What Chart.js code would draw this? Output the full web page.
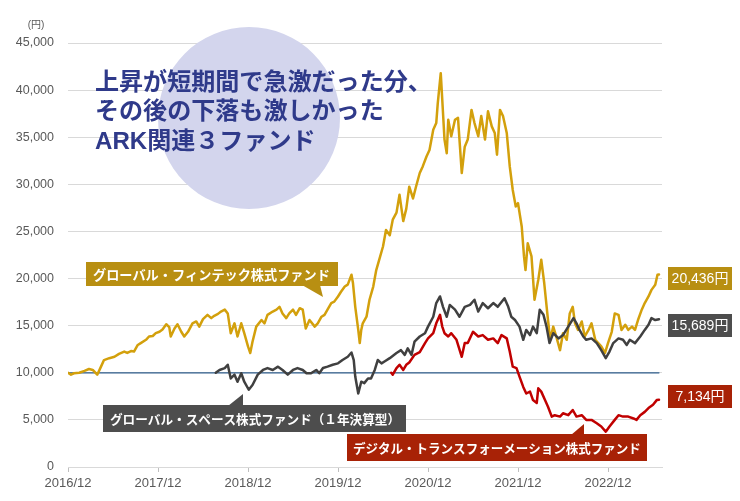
<!DOCTYPE html>
<html><head><meta charset="utf-8">
<script src="https://cdn.jsdelivr.net/npm/chart.js@4.4.1/dist/chart.umd.min.js"></script>
<style>html,body{margin:0;padding:0;background:#fff;}canvas{display:block;}</style>
</head><body>
<canvas id="c" width="740" height="501"></canvas>
<script>
// ---- Tick labels (x in months since 2016/12) ----
const xTickMonths = [0, 12, 24, 36, 48, 60, 72];
const xTickLabels = ['2016/12', '2017/12', '2018/12', '2019/12', '2020/12', '2021/12', '2022/12'];

// ---- グローバル・フィンテック株式ファンド ----
const fintechMonths = [0,0.4,0.8,1.5,2.2,2.8,3.3,3.9,4.4,4.8,5.5,6.2,6.8,7.5,7.9,8.4,8.8,9.3,9.7,10.4,10.8,11.3,11.7,12.2,12.6,13.1,13.5,13.7,14.2,14.6,15.1,15.5,16.0,16.6,17.1,17.5,18.0,18.6,19.1,19.5,20.0,20.4,20.9,21.3,21.7,22.2,22.6,23.1,23.5,24.0,24.3,24.6,25.1,25.8,26.2,26.6,27.3,27.8,28.2,28.6,29.1,29.5,30.0,30.4,30.9,31.3,31.7,32.2,32.9,33.3,33.8,34.2,34.6,35.1,35.5,36.0,36.4,36.9,37.3,37.8,38.0,38.3,38.7,38.9,39.1,39.3,39.8,40.2,40.7,41.1,41.5,42.0,42.4,42.9,43.3,43.8,44.2,44.7,45.1,45.5,46.0,46.4,46.9,47.3,47.8,48.2,48.7,49.1,49.3,49.7,49.9,50.2,50.5,50.7,51.1,51.6,52.0,52.5,52.9,53.3,53.8,54.2,54.7,55.1,55.6,56.0,56.5,56.9,57.2,57.6,58.0,58.5,58.9,59.3,59.7,60.0,60.5,60.8,61.0,61.3,61.8,62.2,62.7,63.1,63.5,64.0,64.3,64.7,65.1,65.6,66.0,66.5,66.9,67.3,67.6,68.0,68.5,68.9,69.4,69.8,70.3,70.7,71.1,71.6,72.0,72.5,72.9,73.4,73.8,74.3,74.7,75.2,75.6,76.0,76.5,76.9,77.4,77.8,78.3,78.6,78.8];
const fintechValues = [10000,9800,9950,10000,10200,10400,10300,9800,10650,11350,11550,11700,12000,12250,12100,12300,12250,12950,13150,13500,13850,13900,14200,14350,14600,15150,14850,13850,14700,15150,14350,13850,14350,15250,15450,14900,15700,16150,15800,16050,16250,16500,16700,16300,14200,15250,13850,15250,14200,12800,12100,13300,14900,15600,15250,16150,16500,16700,17000,16300,15800,16300,16700,16150,16850,16700,14700,15600,14900,15250,15950,16150,16700,17400,17550,18100,18600,19150,19350,20400,19500,17000,14550,13150,14550,15250,15950,17750,19150,20900,22000,23400,25150,24600,26250,27000,28900,26100,27400,29750,28500,29750,31200,31900,32950,33650,35800,36500,38600,41800,39000,34750,33300,36850,35100,36850,37050,31200,34000,34750,37900,36500,35100,37250,34750,37750,36150,35450,33150,37900,37250,35450,31900,29400,27650,28000,25500,22350,20900,23750,22350,17750,19850,22000,19500,15600,13500,14900,13850,12400,14200,13500,16300,17000,15250,14550,15450,13850,14550,15250,13500,13150,12800,12100,13150,14350,16300,16150,14550,15100,14550,14900,14550,15600,16700,17400,18100,18800,19350,20400,20436];

// ---- グローバル・スペース株式ファンド（１年決算型） ----
const spaceMonths = [19.7,20.2,20.9,21.3,21.7,22.2,22.6,23.1,23.5,24.1,24.6,25.3,26.0,26.6,27.3,28.0,28.6,29.3,30.0,30.6,31.3,31.8,32.4,33.1,33.5,34.0,34.6,35.3,36.0,36.6,37.3,37.8,38.1,38.3,38.7,39.1,39.5,40.0,40.4,40.9,41.3,41.8,42.2,42.9,43.8,44.4,44.9,45.3,45.8,46.2,46.9,47.6,48.0,48.7,49.1,49.6,50.0,50.5,50.9,51.6,52.2,52.9,53.6,54.2,54.7,55.3,56.0,56.7,57.3,58.2,58.7,59.1,59.6,60.2,60.7,61.1,61.6,62.0,62.5,62.9,63.4,63.8,64.2,64.7,65.4,66.0,66.7,67.4,67.8,68.2,68.7,69.1,69.8,70.5,71.1,71.7,72.2,72.7,73.4,74.0,74.5,74.9,75.6,76.3,76.9,77.4,77.8,78.3,78.8];
const spaceValues = [10000,10300,10500,10850,9400,9800,9050,9950,9050,8200,8700,9800,10300,10500,10300,10650,10300,9800,10300,10500,10300,9950,9950,10300,9950,10500,10650,10850,11000,11350,11700,12150,11350,9600,7800,9050,8900,9400,9400,10300,11350,11000,11200,11550,12100,12400,11900,12600,11900,13300,13850,14200,14900,15950,17400,18100,17000,15950,17200,16700,15950,17000,17200,17750,16500,17400,16850,17400,17000,17900,17000,15950,15600,14900,13500,14550,14000,14900,14200,16700,16150,14900,13150,14200,13650,14000,14900,15800,15250,14550,13850,13500,13650,13150,12400,11550,12250,13150,13650,13500,12950,13500,13150,13850,14550,15100,15800,15600,15689];

// ---- デジタル・トランスフォーメーション株式ファンド ----
const dxMonths = [43.1,43.3,43.8,44.2,44.7,45.1,45.5,46.2,46.9,47.6,48.0,48.7,49.1,49.6,49.9,50.2,50.7,51.1,51.8,52.5,52.9,53.3,54.0,54.7,55.3,56.0,56.7,57.3,57.8,58.5,58.9,59.3,59.8,60.2,60.7,61.1,61.6,62.0,62.5,62.7,63.1,63.6,64.0,64.5,64.9,65.6,66.0,66.7,67.3,67.8,68.5,69.1,69.8,70.5,71.1,71.7,72.2,72.9,73.4,74.0,74.7,75.4,75.8,76.3,76.9,77.4,78.0,78.5,78.8];
const dxValues = [10000,9800,10500,10850,10300,10850,11100,11900,12200,13150,13650,14200,15250,16150,14900,14200,13850,14200,13500,11700,13150,13150,14350,13850,14000,13500,13650,13150,14000,13650,12250,10650,10500,9600,8500,7800,8000,7100,6800,8350,8000,7100,6400,5350,5500,5350,5700,5500,6050,5350,5500,5000,5000,4650,4300,3750,4300,5000,5500,5350,5350,5150,5000,5500,5850,6250,6600,7100,7134];

// ---- 基準線 10,000円 ----
const baseMonths = [0, 78.8];
const baseValues = [10000, 10000];

// ---- 最終値ラベル ----
const endLabels = ['20,436円', '15,689円', '7,134円'];

const mk = (ms, vs) => ms.map((m, i) => ({ x: m, y: vs[i] }));
const fmt = v => String(v).replace(/\B(?=(\d{3})+(?!\d))/g, ',');

const SANS = "'Liberation Sans', 'Noto Sans CJK JP', sans-serif";
const JP = "'Noto Sans CJK JP', sans-serif";

function fitFont(ctx, text, weight, family, base, targetW) {
  ctx.font = weight + ' ' + base + 'px ' + family;
  const w = ctx.measureText(text).width;
  const s = base * targetW / w;
  ctx.font = weight + ' ' + s.toFixed(2) + 'px ' + family;
}

function callout(ctx, box, tail, color, text, textX, textW) {
  ctx.fillStyle = color;
  ctx.fillRect(box[0], box[1], box[2], box[3]);
  ctx.beginPath();
  ctx.moveTo(tail[0][0], tail[0][1]);
  ctx.lineTo(tail[1][0], tail[1][1]);
  ctx.lineTo(tail[2][0], tail[2][1]);
  ctx.closePath();
  ctx.fill();
  ctx.fillStyle = '#ffffff';
  fitFont(ctx, text, 'bold', JP, 13, textW);
  ctx.textAlign = 'left';
  ctx.textBaseline = 'middle';
  ctx.fillText(text, textX, box[1] + box[3] / 2 + 1);
}

const annot = {
  id: 'annot',
  beforeDatasetsDraw(chart) {
    const ctx = chart.ctx;
    ctx.save();
    ctx.fillStyle = 'rgb(211,213,237)';
    ctx.beginPath();
    ctx.arc(249, 118, 91, 0, Math.PI * 2);
    ctx.fill();
    ctx.restore();
  },
  afterDraw(chart) {
    const ctx = chart.ctx;
    ctx.save();
    // unit
    ctx.fillStyle = '#595959';
    ctx.font = '10px ' + SANS;
    ctx.textAlign = 'center';
    ctx.textBaseline = 'middle';
    ctx.fillText('(円)', 36, 25);

    // headline
    ctx.fillStyle = '#2f3a8a';
    ctx.textAlign = 'left';
    ctx.textBaseline = 'middle';
    fitFont(ctx, '上昇が短期間で急激だった分、', 'bold', SANS, 24, 337);
    ctx.fillText('上昇が短期間で急激だった分、', 95, 83);
    ctx.fillText('その後の下落も激しかった', 95, 112);
    ctx.fillText('ARK関連３ファンド', 95, 142);

    // callouts
    callout(ctx, [86, 262, 252, 24], [[302, 285], [323, 297], [320, 285]],
      'rgb(184,143,18)', 'グローバル・フィンテック株式ファンド', 93, 237);
    callout(ctx, [103, 405, 303, 27], [[228, 406], [243, 394], [243, 406]],
      'rgb(77,77,77)', 'グローバル・スペース株式ファンド（１年決算型）', 110, 290);
    callout(ctx, [347, 434, 300, 27], [[571, 435], [584, 424], [584, 435]],
      'rgb(168,34,6)', 'デジタル・トランスフォーメーション株式ファンド', 353, 288);

    // end value labels
    const ends = [[267, 'rgb(184,143,18)'], [314, 'rgb(77,77,77)'], [385, 'rgb(168,34,6)']];
    ends.forEach((e, i) => {
      ctx.fillStyle = e[1];
      ctx.fillRect(668, e[0], 64, 23);
      ctx.fillStyle = '#ffffff';
      ctx.font = '14px ' + SANS;
      ctx.textAlign = 'center';
      ctx.textBaseline = 'middle';
      ctx.fillText(endLabels[i], 700, e[0] + 12);
    });
    ctx.restore();
  }
};

Chart.defaults.font.family = SANS;

new Chart(document.getElementById('c'), {
  type: 'line',
  data: {
    datasets: [
      { label: 'グローバル・スペース株式ファンド（１年決算型）', data: mk(spaceMonths, spaceValues),
        borderColor: '#404040', borderWidth: 2.5, pointRadius: 0 },
      { label: 'デジタル・トランスフォーメーション株式ファンド', data: mk(dxMonths, dxValues),
        borderColor: '#c00000', borderWidth: 2.5, pointRadius: 0 },
      { label: 'グローバル・フィンテック株式ファンド', data: mk(fintechMonths, fintechValues),
        borderColor: '#d3a00c', borderWidth: 2.5, pointRadius: 0 },
      { label: '10,000', data: mk(baseMonths, baseValues),
        borderColor: '#2f5d8c', borderWidth: 1.2, pointRadius: 0 }
    ]
  },
  options: {
    responsive: false,
    animation: false,
    layout: { padding: { top: 43, right: 78, left: 0, bottom: 0 } },
    plugins: { legend: { display: false }, tooltip: { enabled: false } },
    elements: { line: { tension: 0, borderJoinStyle: 'round', borderCapStyle: 'round' } },
    scales: {
      x: {
        type: 'linear', min: 0, max: 79.2,
        afterFit(s) { s.height = 34; },
        afterBuildTicks(s) { s.ticks = xTickMonths.map(v => ({ value: v })); },
        ticks: { callback: (v, i) => xTickLabels[i], color: '#595959', font: { size: 13 },
                 padding: 4, maxRotation: 0, autoSkip: false },
        grid: { drawOnChartArea: false, drawTicks: true, tickLength: 5, color: '#bfbfbf' },
        border: { display: true, color: '#d9d9d9' }
      },
      y: {
        min: 0, max: 45000,
        afterFit(s) { s.width = 68; },
        ticks: { stepSize: 5000, callback: v => fmt(v), color: '#595959', font: { size: 12.5 }, padding: 14 },
        grid: { color: '#d9d9d9', drawTicks: false },
        border: { display: false }
      }
    }
  },
  plugins: [annot]
});
</script>
</body></html>
